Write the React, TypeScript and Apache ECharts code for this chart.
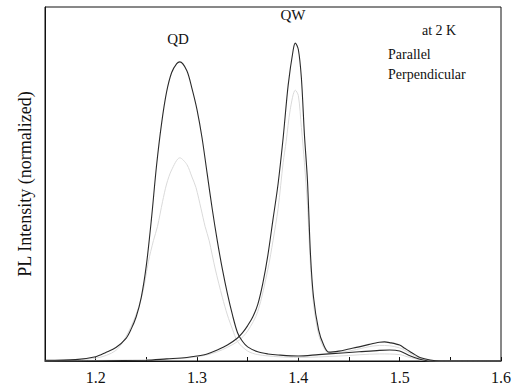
import React, { useEffect, useRef } from "react";
import * as echarts from "echarts";

// Photon energy (eV) and normalized PL intensity
const qdParallel: [number, number][] = [
  [1.15, 0.002], [1.18, 0.004], [1.2, 0.012], [1.21, 0.024], [1.22, 0.038],
  [1.23, 0.064], [1.235, 0.09], [1.24, 0.125], [1.245, 0.18], [1.25, 0.27],
  [1.255, 0.4], [1.26, 0.55], [1.265, 0.67], [1.27, 0.76], [1.275, 0.815],
  [1.28, 0.84], [1.283, 0.845], [1.29, 0.82], [1.295, 0.77], [1.3, 0.71],
  [1.305, 0.63], [1.31, 0.53], [1.315, 0.43], [1.32, 0.34], [1.325, 0.26],
  [1.33, 0.19], [1.335, 0.13], [1.34, 0.08], [1.345, 0.055], [1.35, 0.04],
  [1.36, 0.026], [1.37, 0.02], [1.38, 0.017], [1.4, 0.014], [1.42, 0.018],
  [1.44, 0.022], [1.46, 0.026], [1.48, 0.03], [1.49, 0.031], [1.5, 0.028],
  [1.51, 0.015], [1.52, 0.005], [1.53, 0.0], [1.6, 0.0],
];

const qwParallel: [number, number][] = [
  [1.15, 0.0], [1.25, 0.002], [1.27, 0.006], [1.29, 0.01], [1.3, 0.014],
  [1.31, 0.02], [1.32, 0.031], [1.33, 0.045], [1.34, 0.065], [1.345, 0.08],
  [1.35, 0.1], [1.355, 0.124], [1.36, 0.16], [1.365, 0.22], [1.37, 0.3],
  [1.375, 0.4], [1.38, 0.5], [1.385, 0.63], [1.39, 0.78], [1.395, 0.88],
  [1.397, 0.898], [1.4, 0.88], [1.403, 0.8], [1.406, 0.64], [1.409, 0.51],
  [1.412, 0.3], [1.415, 0.18], [1.42, 0.088], [1.425, 0.045], [1.43, 0.025],
  [1.44, 0.028], [1.45, 0.034], [1.46, 0.04], [1.47, 0.047], [1.48, 0.053],
  [1.485, 0.054], [1.49, 0.052], [1.5, 0.045], [1.505, 0.036], [1.51, 0.027],
  [1.515, 0.018], [1.52, 0.01], [1.53, 0.003], [1.54, 0.0], [1.6, 0.0],
];

const qdPerpendicular: [number, number][] = [
  [1.15, 0.001], [1.2, 0.008], [1.22, 0.03], [1.232, 0.08], [1.241, 0.14],
  [1.247, 0.2], [1.252, 0.28], [1.257, 0.34], [1.261, 0.38], [1.266, 0.45],
  [1.27, 0.5], [1.275, 0.54], [1.283, 0.574], [1.29, 0.555], [1.295, 0.52],
  [1.299, 0.49], [1.304, 0.43], [1.308, 0.38], [1.312, 0.34], [1.318, 0.26],
  [1.325, 0.18], [1.33, 0.13], [1.335, 0.09], [1.34, 0.055], [1.35, 0.028],
  [1.36, 0.018], [1.38, 0.012], [1.4, 0.01], [1.44, 0.014], [1.48, 0.02],
  [1.5, 0.018], [1.51, 0.01], [1.53, 0.0], [1.6, 0.0],
];

const qwPerpendicular: [number, number][] = [
  [1.15, 0.0], [1.27, 0.005], [1.3, 0.012], [1.32, 0.026], [1.34, 0.055],
  [1.35, 0.085], [1.36, 0.14], [1.37, 0.26], [1.375, 0.34], [1.38, 0.43],
  [1.385, 0.56], [1.388, 0.62], [1.392, 0.71], [1.397, 0.765], [1.4, 0.75],
  [1.403, 0.66], [1.406, 0.56], [1.409, 0.44], [1.412, 0.27], [1.415, 0.16],
  [1.42, 0.075], [1.425, 0.038], [1.43, 0.022], [1.45, 0.028], [1.48, 0.044],
  [1.49, 0.043], [1.5, 0.037], [1.51, 0.022], [1.52, 0.008], [1.54, 0.0],
  [1.6, 0.0],
];

const xTickLabels = ["1.2", "1.3", "1.4", "1.5", "1.6"];
const peakLabels = ["QD", "QW"];

const FONT = "'Liberation Serif', 'Times New Roman', serif";

export default function App() {
  const ref = useRef<HTMLDivElement>(null);
  useEffect(() => {
    if (!ref.current) return;
    const chart = echarts.init(ref.current, undefined, { renderer: "svg" });
    const dark = "#2a2a2a";
    const light = "#dadada";
    chart.setOption({
      animation: false,
      backgroundColor: "#ffffff",
      grid: {
        left: 45,
        right: 20,
        top: 7,
        bottom: 26,
        show: true,
        borderColor: "#111",
        borderWidth: 1,
      },
      legend: {
        data: ["Parallel", "Perpendicular"],
        orient: "vertical",
        left: 378,
        top: 42,
        padding: 5,
        icon: "rect",
        itemWidth: 0,
        itemHeight: 0,
        itemGap: 6,
        selectedMode: false,
        textStyle: { fontFamily: FONT, fontSize: 14, color: "#111" },
      },
      xAxis: {
        type: "value",
        min: 1.15,
        max: 1.6,
        interval: 0.05,
        axisLine: { lineStyle: { color: "#111", width: 1 } },
        axisTick: { inside: true, length: 4, lineStyle: { color: "#111" } },
        splitLine: { show: false },
        axisLabel: {
          fontFamily: FONT,
          fontSize: 16,
          color: "#111",
          margin: 8,
          formatter: (v: number) => {
            const s = v.toFixed(1);
            return Math.abs(v - parseFloat(s)) < 1e-6 && xTickLabels.includes(s) ? s : "";
          },
        },
      },
      yAxis: {
        type: "value",
        min: 0,
        max: 1,
        name: "PL Intensity (normalized)",
        nameLocation: "middle",
        nameGap: 11,
        nameTextStyle: { fontFamily: FONT, fontSize: 18, color: "#111" },
        axisLine: { show: true, lineStyle: { color: "#111" } },
        axisTick: { show: false },
        axisLabel: { show: false },
        splitLine: { show: false },
      },
      graphic: [
        {
          type: "text",
          x: 178,
          y: 39,
          style: { text: peakLabels[0], fontFamily: FONT, fontSize: 15, fill: "#111", align: "center", verticalAlign: "middle" },
        },
        {
          type: "text",
          x: 293,
          y: 15,
          style: { text: peakLabels[1], fontFamily: FONT, fontSize: 15, fill: "#111", align: "center", verticalAlign: "middle" },
        },
        {
          type: "text",
          x: 422,
          y: 30,
          style: { text: "at 2 K", fontFamily: FONT, fontSize: 14, fill: "#111", align: "left", verticalAlign: "middle" },
        },
      ],
      series: [
        { name: "Perpendicular", type: "line", data: qdPerpendicular, showSymbol: false, smooth: 0.3, lineStyle: { color: light, width: 1 }, itemStyle: { color: light } },
        { name: "Perpendicular", type: "line", data: qwPerpendicular, showSymbol: false, smooth: 0.3, lineStyle: { color: light, width: 1 }, itemStyle: { color: light } },
        { name: "Parallel", type: "line", data: qdParallel, showSymbol: false, smooth: 0.3, lineStyle: { color: dark, width: 1.1 }, itemStyle: { color: dark } },
        { name: "Parallel", type: "line", data: qwParallel, showSymbol: false, smooth: 0.3, lineStyle: { color: dark, width: 1.1 }, itemStyle: { color: dark } },
      ],
    });
    return () => chart.dispose();
  }, []);
  return <div ref={ref} style={{ width: 521, height: 387, position: "absolute", left: 0, top: 0 }} />;
}
